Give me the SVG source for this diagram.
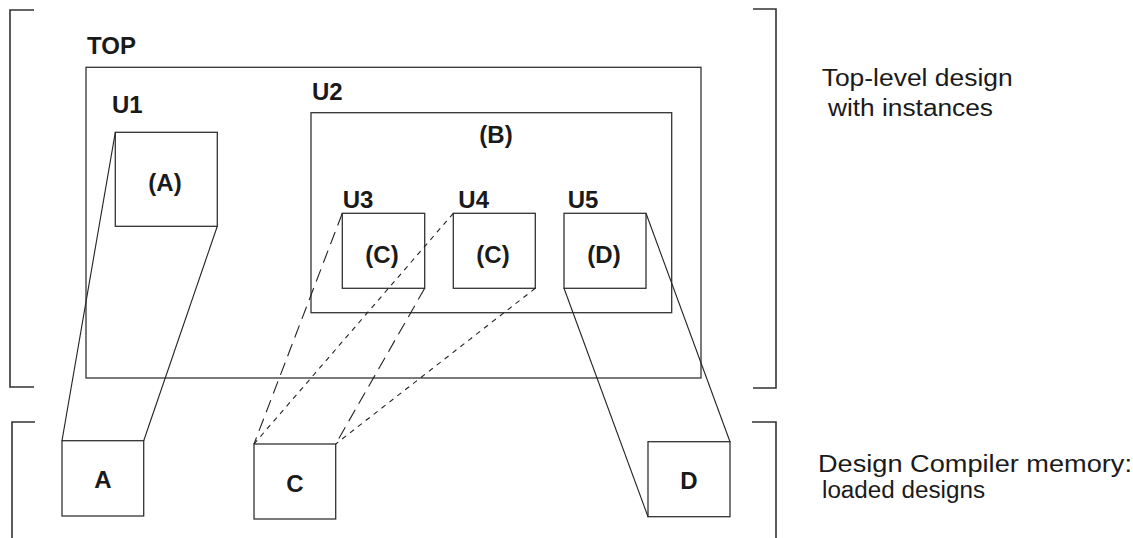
<svg xmlns="http://www.w3.org/2000/svg" width="1133" height="538" viewBox="0 0 1133 538">
<style>
.bk{fill:none;stroke:#333;stroke-width:1.6}
.box{fill:#fff;stroke:#333;stroke-width:1.3}
.lbl{font-family:"Liberation Sans",Arial,sans-serif;font-weight:bold;font-size:24px;fill:#1a1a1a}
.note{font-family:"Liberation Sans",Arial,sans-serif;font-size:23px;fill:#1a1a1a}
.ln{fill:none;stroke:#222;stroke-width:1.1}
.ld{stroke-dasharray:13 7}
.sd{stroke-dasharray:5 5}
</style>
<rect width="1133" height="538" fill="#fff"/>
<g id="brackets">
<path class="bk" d="M34,10 H10 V387 H34"/>
<path class="bk" d="M753,9 H776 V388 H753"/>
<path class="bk" d="M35,422 H12 V538"/>
<path class="bk" d="M752,422 H776 V538"/>
</g>
<g id="TOP">
<rect class="box" x="86" y="67.3" width="615" height="310.7"/>
<text class="lbl" x="87" y="54">TOP</text>
</g>
<g id="U1">
<rect class="box" x="115.3" y="132.3" width="102" height="94"/>
<text class="lbl" x="112" y="113">U1</text>
<text class="lbl" x="165" y="191" text-anchor="middle">(A)</text>
</g>
<g id="U2">
<rect class="box" x="311" y="112.7" width="360.7" height="200"/>
<text class="lbl" x="312" y="100">U2</text>
<text class="lbl" x="496" y="143" text-anchor="middle">(B)</text>
</g>
<g id="U3">
<rect class="box" x="342.3" y="213.3" width="82.4" height="75"/>
<text class="lbl" x="342.7" y="208">U3</text>
<text class="lbl" x="382" y="263" text-anchor="middle">(C)</text>
</g>
<g id="U4">
<rect class="box" x="453.3" y="213.3" width="82" height="75"/>
<text class="lbl" x="458.3" y="208">U4</text>
<text class="lbl" x="493" y="263" text-anchor="middle">(C)</text>
</g>
<g id="U5">
<rect class="box" x="564" y="213.3" width="82" height="75"/>
<text class="lbl" x="567.7" y="208">U5</text>
<text class="lbl" x="604" y="263" text-anchor="middle">(D)</text>
</g>
<g id="A">
<rect class="box" x="62" y="440.7" width="81.7" height="75.3"/>
<text class="lbl" x="103" y="488" text-anchor="middle">A</text>
</g>
<g id="C">
<rect class="box" x="254" y="444" width="81.7" height="75"/>
<text class="lbl" x="295" y="492" text-anchor="middle">C</text>
</g>
<g id="D">
<rect class="box" x="648" y="441.7" width="82" height="75"/>
<text class="lbl" x="689" y="489" text-anchor="middle">D</text>
</g>
<g id="connectors">
<line class="ln" x1="115.3" y1="132.3" x2="62" y2="440.7"/>
<line class="ln" x1="217.3" y1="226.3" x2="143.7" y2="440.7"/>
<line class="ln ld" x1="342.3" y1="213.3" x2="254" y2="444"/>
<line class="ln ld" x1="424.7" y1="288.3" x2="335.7" y2="444"/>
<line class="ln sd" x1="453.3" y1="213.3" x2="254" y2="444"/>
<line class="ln sd" x1="535.3" y1="288.3" x2="335.7" y2="444"/>
<line class="ln" x1="564" y1="288.3" x2="648" y2="516.7"/>
<line class="ln" x1="646" y1="213.3" x2="730" y2="441.7"/>
</g>
<g id="notes">
<text class="note" x="821.7" y="86" textLength="191" lengthAdjust="spacingAndGlyphs">Top-level design</text>
<text class="note" x="828" y="116" textLength="165" lengthAdjust="spacingAndGlyphs">with instances</text>
<text class="note" x="818" y="472" textLength="314" lengthAdjust="spacingAndGlyphs">Design Compiler memory:</text>
<text class="note" x="822" y="498" textLength="163" lengthAdjust="spacingAndGlyphs">loaded designs</text>
</g>
</svg>
